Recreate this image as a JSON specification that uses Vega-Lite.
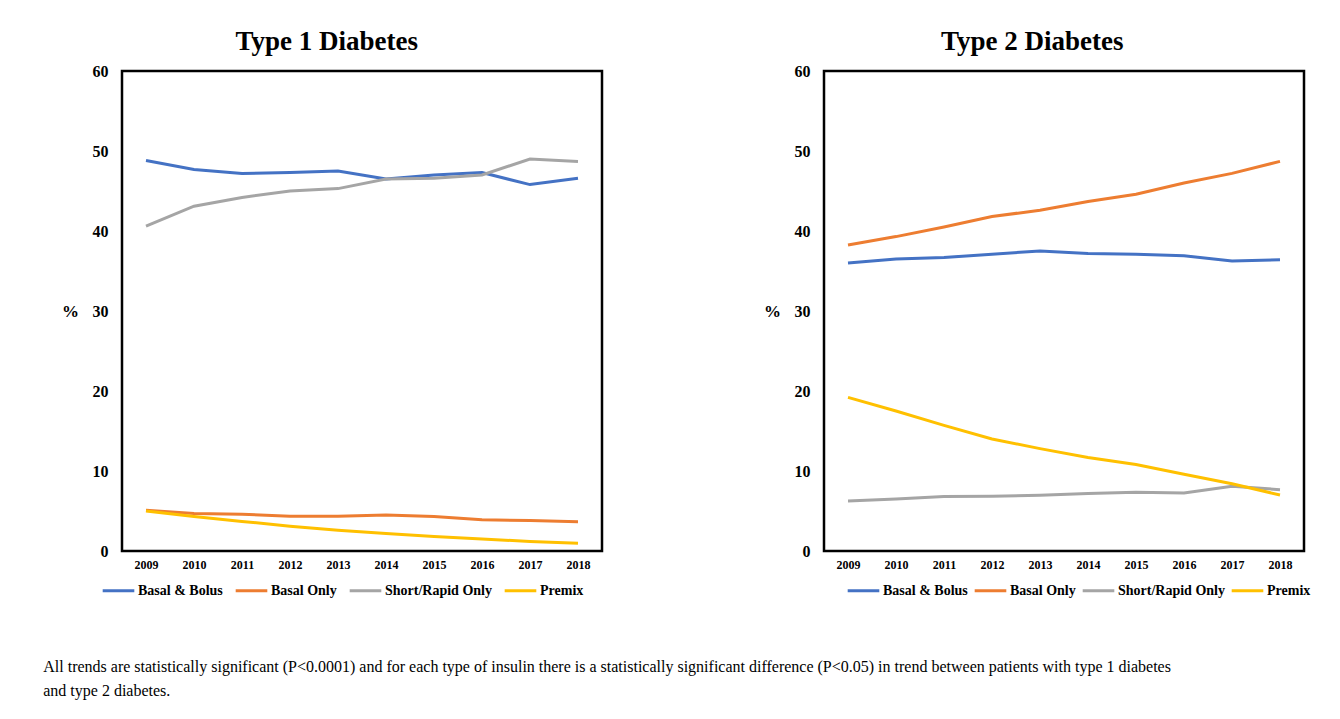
{
  "$schema": "https://vega.github.io/schema/vega-lite/v6.json",
  "background": "white",
  "padding": {"left": 43, "top": 26, "right": 20, "bottom": 10},
  "config": {
    "font": "Liberation Serif",
    "view": {"stroke": "black", "strokeWidth": 2.5},
    "axis": {"labelFont": "Liberation Serif", "labelFontWeight": "bold", "labelColor": "black", "grid": false, "ticks": false, "domain": false, "titleFont": "Liberation Serif", "titleColor": "black"},
    "legend": {"orient": "none", "direction": "horizontal", "title": null, "symbolType": "stroke", "symbolStrokeWidth": 3, "symbolSize": 1000, "labelFont": "Liberation Serif", "labelFontSize": 14, "labelFontWeight": "bold", "labelColor": "black", "columnPadding": 6, "labelOffset": 2},
    "title": {"font": "Liberation Serif", "fontSize": 27, "fontWeight": "bold", "color": "black"}
  },
  "datasets": {
    "t1": [
      {"year": "2009", "type": "Basal & Bolus", "pct": 48.8},
      {"year": "2010", "type": "Basal & Bolus", "pct": 47.7},
      {"year": "2011", "type": "Basal & Bolus", "pct": 47.2},
      {"year": "2012", "type": "Basal & Bolus", "pct": 47.3},
      {"year": "2013", "type": "Basal & Bolus", "pct": 47.5},
      {"year": "2014", "type": "Basal & Bolus", "pct": 46.5},
      {"year": "2015", "type": "Basal & Bolus", "pct": 47.0},
      {"year": "2016", "type": "Basal & Bolus", "pct": 47.3},
      {"year": "2017", "type": "Basal & Bolus", "pct": 45.8},
      {"year": "2018", "type": "Basal & Bolus", "pct": 46.6},
      {"year": "2009", "type": "Basal Only", "pct": 5.1},
      {"year": "2010", "type": "Basal Only", "pct": 4.7},
      {"year": "2011", "type": "Basal Only", "pct": 4.6},
      {"year": "2012", "type": "Basal Only", "pct": 4.35},
      {"year": "2013", "type": "Basal Only", "pct": 4.35},
      {"year": "2014", "type": "Basal Only", "pct": 4.5},
      {"year": "2015", "type": "Basal Only", "pct": 4.3},
      {"year": "2016", "type": "Basal Only", "pct": 3.9},
      {"year": "2017", "type": "Basal Only", "pct": 3.8},
      {"year": "2018", "type": "Basal Only", "pct": 3.65},
      {"year": "2009", "type": "Short/Rapid Only", "pct": 40.6},
      {"year": "2010", "type": "Short/Rapid Only", "pct": 43.1},
      {"year": "2011", "type": "Short/Rapid Only", "pct": 44.2},
      {"year": "2012", "type": "Short/Rapid Only", "pct": 45.0},
      {"year": "2013", "type": "Short/Rapid Only", "pct": 45.3},
      {"year": "2014", "type": "Short/Rapid Only", "pct": 46.5},
      {"year": "2015", "type": "Short/Rapid Only", "pct": 46.6},
      {"year": "2016", "type": "Short/Rapid Only", "pct": 47.0},
      {"year": "2017", "type": "Short/Rapid Only", "pct": 49.0},
      {"year": "2018", "type": "Short/Rapid Only", "pct": 48.7},
      {"year": "2009", "type": "Premix", "pct": 5.0},
      {"year": "2010", "type": "Premix", "pct": 4.3},
      {"year": "2011", "type": "Premix", "pct": 3.7},
      {"year": "2012", "type": "Premix", "pct": 3.1},
      {"year": "2013", "type": "Premix", "pct": 2.6},
      {"year": "2014", "type": "Premix", "pct": 2.2},
      {"year": "2015", "type": "Premix", "pct": 1.8},
      {"year": "2016", "type": "Premix", "pct": 1.5},
      {"year": "2017", "type": "Premix", "pct": 1.2},
      {"year": "2018", "type": "Premix", "pct": 0.96}
    ],
    "t2": [
      {"year": "2009", "type": "Basal & Bolus", "pct": 36.0},
      {"year": "2010", "type": "Basal & Bolus", "pct": 36.5},
      {"year": "2011", "type": "Basal & Bolus", "pct": 36.7},
      {"year": "2012", "type": "Basal & Bolus", "pct": 37.1},
      {"year": "2013", "type": "Basal & Bolus", "pct": 37.5},
      {"year": "2014", "type": "Basal & Bolus", "pct": 37.2},
      {"year": "2015", "type": "Basal & Bolus", "pct": 37.1},
      {"year": "2016", "type": "Basal & Bolus", "pct": 36.9},
      {"year": "2017", "type": "Basal & Bolus", "pct": 36.25},
      {"year": "2018", "type": "Basal & Bolus", "pct": 36.4},
      {"year": "2009", "type": "Basal Only", "pct": 38.25},
      {"year": "2010", "type": "Basal Only", "pct": 39.3},
      {"year": "2011", "type": "Basal Only", "pct": 40.5},
      {"year": "2012", "type": "Basal Only", "pct": 41.8},
      {"year": "2013", "type": "Basal Only", "pct": 42.6},
      {"year": "2014", "type": "Basal Only", "pct": 43.7},
      {"year": "2015", "type": "Basal Only", "pct": 44.6},
      {"year": "2016", "type": "Basal Only", "pct": 46.0},
      {"year": "2017", "type": "Basal Only", "pct": 47.2},
      {"year": "2018", "type": "Basal Only", "pct": 48.7},
      {"year": "2009", "type": "Short/Rapid Only", "pct": 6.25},
      {"year": "2010", "type": "Short/Rapid Only", "pct": 6.5},
      {"year": "2011", "type": "Short/Rapid Only", "pct": 6.8},
      {"year": "2012", "type": "Short/Rapid Only", "pct": 6.83},
      {"year": "2013", "type": "Short/Rapid Only", "pct": 6.96},
      {"year": "2014", "type": "Short/Rapid Only", "pct": 7.2},
      {"year": "2015", "type": "Short/Rapid Only", "pct": 7.34},
      {"year": "2016", "type": "Short/Rapid Only", "pct": 7.25},
      {"year": "2017", "type": "Short/Rapid Only", "pct": 8.1},
      {"year": "2018", "type": "Short/Rapid Only", "pct": 7.67},
      {"year": "2009", "type": "Premix", "pct": 19.2},
      {"year": "2010", "type": "Premix", "pct": 17.5},
      {"year": "2011", "type": "Premix", "pct": 15.7},
      {"year": "2012", "type": "Premix", "pct": 14.0},
      {"year": "2013", "type": "Premix", "pct": 12.8},
      {"year": "2014", "type": "Premix", "pct": 11.7},
      {"year": "2015", "type": "Premix", "pct": 10.8},
      {"year": "2016", "type": "Premix", "pct": 9.6},
      {"year": "2017", "type": "Premix", "pct": 8.4},
      {"year": "2018", "type": "Premix", "pct": 7.0}
    ]
  },
  "title": {
    "text": ["All trends are statistically significant (P<0.0001) and for each type of insulin there is a statistically significant difference (P<0.05) in trend between patients with type 1 diabetes", "and type 2 diabetes."],
    "orient": "bottom", "anchor": "start", "frame": "bounds", "fontSize": 16, "fontWeight": "normal", "lineHeight": 24, "offset": 60, "dx": -17
  },
  "spacing": 158,
  "hconcat": [
    {
      "title": {"text": "Type 1 Diabetes", "frame": "bounds", "offset": 7, "dx": -5},
      "width": 480, "height": 480,
      "data": {"name": "t1"},
      "mark": {"type": "line", "strokeWidth": 3},
      "encoding": {
        "x": {"field": "year", "type": "ordinal", "scale": {"padding": 0.5}, "axis": {"title": null, "labelAngle": 0, "labelFontSize": 12, "labelPadding": 8}},
        "y": {"field": "pct", "type": "quantitative", "scale": {"domain": [0, 60]}, "axis": {"values": [0, 10, 20, 30, 40, 50, 60], "title": "%", "titleAngle": 0, "titleFontSize": 17, "titleFontWeight": "bold", "titleBaseline": "middle", "titlePadding": 22, "labelFontSize": 16, "labelPadding": 14}},
        "color": {"field": "type", "type": "nominal", "sort": ["Basal & Bolus", "Basal Only", "Short/Rapid Only", "Premix"], "scale": {"domain": ["Basal & Bolus", "Basal Only", "Short/Rapid Only", "Premix"], "range": ["#4472C4", "#ED7D31", "#A5A5A5", "#FFC000"]}, "legend": {"legendX": -21, "legendY": 502}}
      }
    },
    {
      "title": {"text": "Type 2 Diabetes", "frame": "bounds", "offset": 7, "dx": -5},
      "width": 480, "height": 480,
      "data": {"name": "t2"},
      "mark": {"type": "line", "strokeWidth": 3},
      "encoding": {
        "x": {"field": "year", "type": "ordinal", "scale": {"padding": 0.5}, "axis": {"title": null, "labelAngle": 0, "labelFontSize": 12, "labelPadding": 8}},
        "y": {"field": "pct", "type": "quantitative", "scale": {"domain": [0, 60]}, "axis": {"values": [0, 10, 20, 30, 40, 50, 60], "title": "%", "titleAngle": 0, "titleFontSize": 17, "titleFontWeight": "bold", "titleBaseline": "middle", "titlePadding": 22, "labelFontSize": 16, "labelPadding": 14}},
        "color": {"field": "type", "type": "nominal", "sort": ["Basal & Bolus", "Basal Only", "Short/Rapid Only", "Premix"], "scale": {"domain": ["Basal & Bolus", "Basal Only", "Short/Rapid Only", "Premix"], "range": ["#4472C4", "#ED7D31", "#A5A5A5", "#FFC000"]}, "legend": {"legendX": 22, "legendY": 502, "columnPadding": 0}}
      }
    }
  ],
  "resolve": {"scale": {"color": "independent"}, "legend": {"color": "independent"}}
}
